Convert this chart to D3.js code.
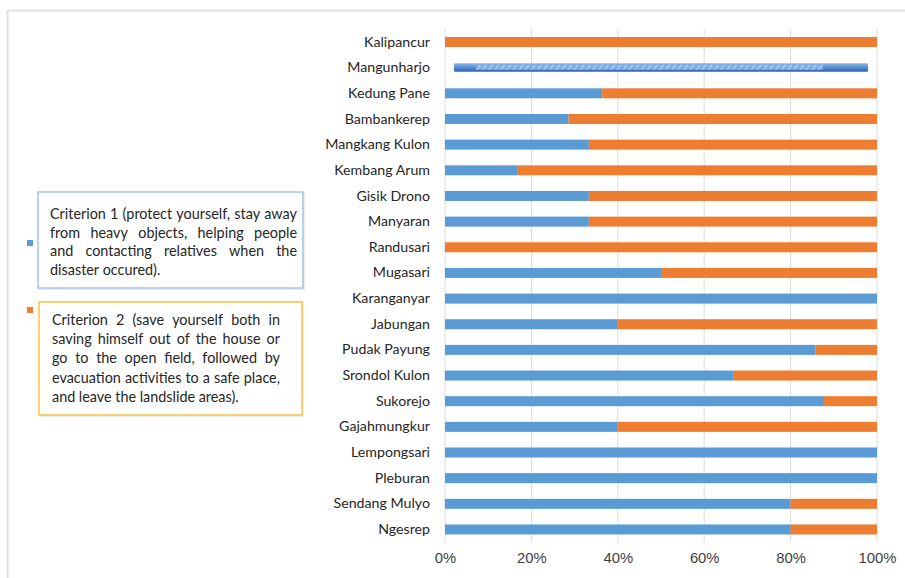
<!DOCTYPE html>
<html>
<head>
<meta charset="utf-8">
<script src="https://cdn.jsdelivr.net/npm/d3@7"></script>
<style>
  html, body { margin: 0; padding: 0; background: #ffffff; }
  svg { display: block; }
</style>
</head>
<body>
<svg id="chart" width="905" height="578"></svg>
<script>
// Villages, top to bottom
const villages = [
  "Kalipancur", "Mangunharjo", "Kedung Pane", "Bambankerep", "Mangkang Kulon",
  "Kembang Arum", "Gisik Drono", "Manyaran", "Randusari", "Mugasari",
  "Karanganyar", "Jabungan", "Pudak Payung", "Srondol Kulon", "Sukorejo",
  "Gajahmungkur", "Lempongsari", "Pleburan", "Sendang Mulyo", "Ngesrep"
];
// Share of respondents (%) per criterion
const criterion1 = [0, 100, 36.4, 28.6, 33.3, 16.7, 33.3, 33.3, 0, 50,
                    100, 40, 85.7, 66.7, 87.5, 40, 100, 100, 80, 80];
const criterion2 = [100, 0, 63.6, 71.4, 66.7, 83.3, 66.7, 66.7, 100, 50,
                    0, 60, 14.3, 33.3, 12.5, 60, 0, 0, 20, 20];
// Bar shown in its selected state
const selectedVillage = "Mangunharjo";
const tickValues = [0, 20, 40, 60, 80, 100];
const seriesColors = ["#5b9bd5", "#ed7d31"];

const legendItems = [
  "Criterion 1 (protect yourself, stay away from heavy objects, helping people and contacting relatives when the disaster occured).",
  "Criterion 2 (save yourself both in saving himself out of the house or go to the open field, followed by evacuation activities to a safe place, and leave the landslide areas)."
];
const legendLines = [
  ["Criterion 1 (protect yourself, stay away", "from heavy objects, helping people",
   "and contacting relatives when the", "disaster occured)."],
  ["Criterion 2 (save yourself both in", "saving himself out of the house or",
   "go to the open field, followed by", "evacuation activities to a safe place,",
   "and leave the landslide areas)."]
];

const svg = d3.select("#chart");
const labelFont = "Lato, 'Open Sans', sans-serif";

// outer frame
svg.append("rect")
  .attr("x", 7.5).attr("y", 10.5).attr("width", 930).attr("height", 600)
  .attr("fill", "none").attr("stroke", "#e2e2e2").attr("stroke-width", 2);

const x = d3.scaleLinear().domain([0, 100]).range([445, 877]);
const y = d3.scaleBand().domain(villages).range([29.2, 542.3]).paddingInner(0.61).paddingOuter(0.305);

// vertical gridlines
svg.append("g").selectAll("line").data(tickValues).join("line")
  .attr("x1", d => x(d)).attr("x2", d => x(d))
  .attr("y1", 29).attr("y2", 542)
  .attr("stroke", "#dcdcdc").attr("stroke-width", 1);

// x axis labels
const xAxis = d3.axisBottom(x).tickValues(tickValues).tickFormat(d => d + "%").tickSize(0).tickPadding(0);
const xg = svg.append("g").attr("transform", "translate(0,552)").call(xAxis);
xg.select(".domain").remove();
xg.selectAll("text")
  .attr("font-family", "'Liberation Sans', Arial, sans-serif")
  .attr("font-size", 14.8)
  .attr("fill", "#404040");

// category labels
const yAxis = d3.axisLeft(y).tickSize(0).tickPadding(0);
const yg = svg.append("g").attr("transform", "translate(430,0)").call(yAxis);
yg.select(".domain").remove();
yg.selectAll("text")
  .attr("font-family", labelFont)
  .attr("font-size", 14.2)
  .attr("fill", "#262626");

// stacked bars
const rows = villages.map((v, i) => ({ village: v, c1: criterion1[i], c2: criterion2[i] }));
const stack = d3.stack().keys(["c1", "c2"])(rows);

const defs = svg.append("defs");
const grad = defs.append("linearGradient").attr("id", "selGrad")
  .attr("x1", 0).attr("y1", 0).attr("x2", 0).attr("y2", 1);
grad.append("stop").attr("offset", "0%").attr("stop-color", "#8db6e8");
grad.append("stop").attr("offset", "45%").attr("stop-color", "#5b93d8");
grad.append("stop").attr("offset", "100%").attr("stop-color", "#2f64b0");
const pat = defs.append("pattern").attr("id", "selPat")
  .attr("width", 5).attr("height", 5).attr("patternUnits", "userSpaceOnUse")
  .attr("patternTransform", "rotate(35)");
pat.append("rect").attr("width", 5).attr("height", 5).attr("fill", "#86b0e4");
pat.append("line").attr("x1", 0).attr("y1", 0).attr("x2", 0).attr("y2", 5)
  .attr("stroke", "#c9dcf4").attr("stroke-width", 2);

stack.forEach((layer, k) => {
  svg.append("g").selectAll("rect")
    .data(layer.filter(d => d.data.village !== selectedVillage && d[1] - d[0] > 0))
    .join("rect")
    .attr("x", d => x(d[0]))
    .attr("width", d => x(d[1]) - x(d[0]))
    .attr("y", d => y(d.data.village))
    .attr("height", y.bandwidth())
    .attr("fill", seriesColors[k]);
});

// selected bar: inset, with highlight pattern
const sel = stack[0].find(d => d.data.village === selectedVillage);
const sx0 = x(sel[0]) + 9, sx1 = x(sel[1]) - 9;
const sy = y(selectedVillage) + 0.5, sh = y.bandwidth() - 1.5;
const sg = svg.append("g").style("filter", "blur(0.5px)");
sg.append("rect").attr("x", sx0).attr("y", sy).attr("width", sx1 - sx0).attr("height", sh)
  .attr("fill", "url(#selGrad)").attr("rx", 1);
sg.append("rect").attr("x", sx0 + 22).attr("y", sy + 1.5).attr("width", (sx1 - sx0) - 67).attr("height", sh - 3.5)
  .attr("fill", "url(#selPat)").attr("opacity", 0.9);

// legend boxes with justified text
const legendBoxes = [
  { x: 38, y: 192, w: 265, h: 96, stroke: "#a9c9e8", tx0: 50, tx1: 297, y0: 219, dy: 18.7, mx: 27, my: 240 },
  { x: 39, y: 302, w: 263, h: 113, stroke: "#f5c74a", tx0: 52, tx1: 280, y0: 325, dy: 19.2, mx: 27, my: 307 }
];

legendBoxes.forEach((b, i) => {
  const g = svg.append("g").attr("class", "legend-item").attr("data-label", legendItems[i]);
  g.append("rect").attr("x", b.x + 1).attr("y", b.y + 1).attr("width", b.w).attr("height", b.h)
    .attr("fill", "none").attr("stroke", "#ececec").attr("stroke-width", 2);
  g.append("rect").attr("x", b.x).attr("y", b.y).attr("width", b.w).attr("height", b.h)
    .attr("fill", "#ffffff").attr("stroke", b.stroke).attr("stroke-width", 1.6);
  g.append("rect").attr("x", b.mx).attr("y", b.my).attr("width", 6).attr("height", 6)
    .attr("fill", seriesColors[i]);

  const lines = legendLines[i];
  lines.forEach((line, li) => {
    const words = line.split(" ");
    const ly = b.y0 + li * b.dy;
    const isLast = li === lines.length - 1;
    const texts = g.selectAll(null).data(words).enter().append("text")
      .attr("y", ly)
      .attr("font-family", labelFont)
      .attr("font-size", 14.4)
      .attr("fill", "#262626")
      .text(d => d);
    const widths = texts.nodes().map(n => n.getComputedTextLength());
    const total = d3.sum(widths);
    const space = 3.6;
    let gap = isLast || words.length < 2 ? space : (b.tx1 - b.tx0 - total) / (words.length - 1);
    let scale = 1;
    if (gap < 2.5) { // too long for the box: squeeze slightly
      gap = 2.5;
      scale = (b.tx1 - b.tx0 - gap * (words.length - 1)) / total;
    }
    let cx = b.tx0;
    texts.each(function(d, wi) {
      const t = d3.select(this).attr("x", cx);
      if (scale < 1) t.attr("textLength", widths[wi] * scale).attr("lengthAdjust", "spacingAndGlyphs");
      cx += widths[wi] * scale + gap;
    });
  });
});
</script>
</body>
</html>
